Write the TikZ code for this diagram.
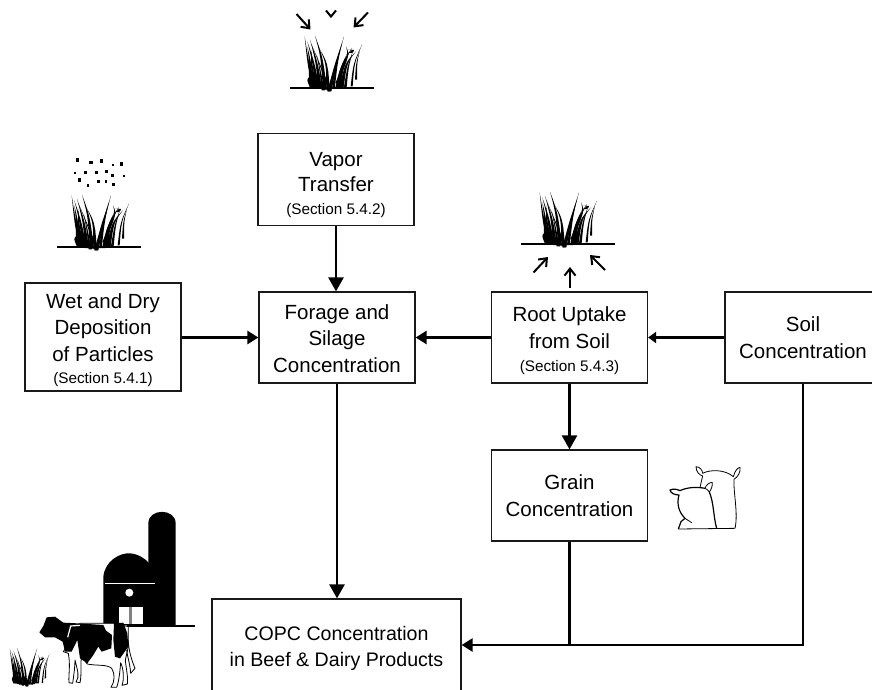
\documentclass[tikz,border=0pt]{standalone}
\usepackage{fontspec}
\setmainfont{Liberation Sans}
\usetikzlibrary{arrows.meta}
\newcommand\blade[7]{\fill ({#1-#7},#2) .. controls (#3,#4) .. (#5,#6) .. controls ({#3+#7},#4) .. ({#1+#7},#2) -- cycle;}
\newcommand\grassblades{%
\blade{130}{262}{112}{190}{104}{110}{5}
\blade{142}{265}{128}{190}{112}{125}{6}
\blade{150}{268}{138}{190}{120}{120}{6}
\blade{122}{250}{118}{190}{112}{140}{6}
\blade{136}{262}{122}{200}{124}{150}{5}
\blade{165}{270}{152}{170}{135}{108}{6}
\blade{175}{272}{168}{190}{150}{150}{5}
\blade{178}{275}{162}{230}{125}{135}{4}
\blade{158}{270}{150}{220}{140}{165}{4}
\blade{178}{275}{195}{190}{216}{130}{6}
\blade{190}{268}{200}{180}{222}{110}{4}
\blade{205}{265}{215}{190}{246}{145}{7}
\blade{215}{262}{225}{190}{258}{155}{6}
\blade{226}{262}{232}{200}{250}{150}{4}
\blade{200}{268}{208}{210}{232}{160}{5}
\blade{245}{260}{250}{190}{276}{135}{3}
\blade{258}{240}{258}{190}{270}{150}{3}
\blade{125}{262}{110}{240}{118}{232}{6}
\blade{160}{272}{168}{230}{175}{215}{5}
\blade{200}{250}{235}{165}{228}{140}{4}
\blade{240}{160}{250}{150}{228}{150}{6}
}
\tikzset{
  box/.style={draw=black!90,line width=1.25pt,fill=white,minimum width=156pt,inner sep=0pt,align=center,
    font=\fontsize{20.5}{26.6}\selectfont},
  flow/.style={line width=2.6pt,-{Triangle[length=14pt,width=15pt]}},
  flowsmall/.style={line width=2.6pt,-{Triangle[length=11pt,width=13pt]}},
  flowtiny/.style={line width=2.6pt,-{Triangle[length=8pt,width=11pt]}},
  plain/.style={line width=2.6pt},
  thin arrow/.style={line width=2pt,-{Straight Barb[length=7pt,width=11pt]}},
  art/.style={line width=0.8pt,line join=round},
  ground/.style={line width=1.8pt},
}
\newcommand\sect[1]{{\fontsize{15.3}{15.3}\selectfont #1}}
\newcommand\dn[1]{\rule{0pt}{\dimexpr 15pt+#1pt+#1pt\relax}}
\begin{document}
\begin{tikzpicture}[x=1pt,y=-1pt]
\useasboundingbox (0,0) rectangle (872,690);
\clip (0,0) rectangle (872,690);
\fill[white] (0,0) rectangle (872,690);
% boxes
\node[box,minimum height=92pt] (vapor) at (336,179.5) {\dn{5}Vapor\\[-1.5pt]Transfer\\[-3pt]\sect{(Section 5.4.2)}};
\node[box,minimum height=108pt] (wet) at (103,337) {\dn{3}Wet and Dry\\Deposition\\of Particles\\[-4pt]\sect{(Section 5.4.1)}};
\node[box,minimum height=91pt] (forage) at (337,337.5) {\dn{1}Forage and\\Silage\\Concentration};
\node[box,minimum height=91pt] (root) at (569.5,337.5) {\dn{3}Root Uptake\\from Soil\\[-4pt]\sect{(Section 5.4.3)}};
\node[box,minimum height=91pt] (soil) at (803,337.5) {Soil\\Concentration};
\node[box,minimum height=91pt] (grain) at (569.5,495.5) {Grain\\Concentration};
\node[box,minimum width=249pt,minimum height=92pt,font=\fontsize{19.6}{26.6}\selectfont] (copc) at (336.5,645) {\dn{3}COPC Concentration\\in Beef \& Dairy Products};
% connectors
\draw[flow] (vapor.south) -- (vapor.south |- forage.north);
\draw[flowsmall] (wet.east |- forage.west) -- (forage.west);
\draw[flowsmall] (root.west) -- (forage.east);
\draw[flowtiny] (soil.west) -- (root.east);
\draw[flow] (root.south) -- (grain.north);
\draw[flow] (forage.south) -- (forage.south |- copc.north);
\draw[plain] (grain.south) -- (grain.south |- copc.east);
\draw[flowsmall] (soil.south) |- (copc.east);
% top grass
\begin{scope}[shift={(290,88)},scale=1/3,shift={(-60,-265)}]\grassblades\end{scope}
\draw[ground] (290,88) -- (374,88);
\draw[thin arrow] (296.5,14) -- (310.5,29.5);
\draw[thin arrow] (368,12.5) -- (353.5,27.5);
\draw[line width=2pt] (326,10.5) -- (331,16.5) -- (336,10.5);
% left grass
\begin{scope}[shift={(57,247)},scale=1/3,shift={(-60,-265)}]\grassblades\end{scope}
\draw[ground] (57,247) -- (141,247);
\foreach \px/\py/\ps in {52/60/3.2,93/68/3.2,124/63/3.2,160/75/2,184/72/3.2,46/100/2,76/98/3.2,110/98/3.2,138/94/3,156/105/3,192/108/2.2,58/120/3.2,84/136/2.4,116/124/2.8,138/124/2.4,160/133/2.6}
  \fill ({60+\px/3-\ps/2},{140+\py/3-\ps/2}) rectangle ++(\ps,\ps);
% root grass
\begin{scope}[shift={(525,244)},scale=1/3,shift={(-60,-265)}]\grassblades\end{scope}
\draw[line width=2.8pt] (521,244) -- (615,244);
\draw[thin arrow] (533.5,272.5) -- (548,257);
\draw[thin arrow] (570,287.5) -- (570,267);
\draw[thin arrow] (605,270) -- (590,255);
% cow grass
\begin{scope}[shift={(9,684)},scale=0.23,shift={(-100,-265)}]\grassblades\end{scope}
% barn
\begin{scope}[shift={(0,540)},scale=1/3]
\fill (445,258) -- (445,-50) .. controls (445,-96) and (527,-96) .. (527,-50) -- (527,258) -- cycle;
\fill (310,256) -- (310,110) .. controls (315,62) and (360,38) .. (390,40) .. controls (415,42) and (435,55) .. (450,72) -- (450,256) -- cycle;
\draw[ground] (380,259) -- (585,259);
\draw[white,line width=1.2pt] (316,131) -- (465,131);
\fill[white] (388,158) circle (12);
\fill[white] (358,202) rectangle (428,252);
\fill[gray] (388,202) rectangle (396,252);
\end{scope}
% cow
\begin{scope}[shift={(0,540)},scale=1/3]
\draw[art,fill=white] (190,335) -- (205,340) .. controls (212,380) and (205,400) .. (207,428) -- (218,430) .. controls (222,400) and (225,380) .. (225,360) .. controls (232,390) and (240,410) .. (228,426) -- (240,428) .. controls (246,400) and (240,370) .. (245,350) -- (262,372) .. controls (290,378) and (320,372) .. (335,385) .. controls (345,400) and (345,425) .. (333,442) -- (350,442) .. controls (358,420) and (360,390) .. (362,368) .. controls (372,390) and (372,420) .. (366,436) -- (382,432) .. controls (385,410) and (378,385) .. (376,360) -- (385,320) -- (385,260) -- (342,250) -- (240,250) -- cycle;
\draw[art] (384,300) .. controls (388,340) and (395,360) .. (405,385) -- (392,400) .. controls (390,370) and (382,350) .. (380,330);
\fill (118,277) -- (130,258) -- (140,232) -- (165,230) -- (190,248) -- (232,250) -- (310,255) -- (318,272) -- (336,285) -- (334,325) -- (305,335) -- (295,320) -- (280,345) -- (262,370) -- (240,355) -- (232,300) -- (215,335) -- (195,335) -- (188,305) -- (165,292) -- (135,292) -- cycle;
\fill (342,250) -- (370,248) -- (382,280) -- (385,320) -- (360,355) -- (345,350) -- (340,300) -- cycle;
\draw[white,line width=1.2pt] (203,292) -- (212,258) -- (240,256);
\end{scope}
% sacks
\begin{scope}[shift={(480,380)},scale=1/3]
\draw[art] (660,322) -- (668,288) .. controls (658,285) and (648,275) .. (648,260) .. controls (660,260) and (668,272) .. (668,280) .. controls (690,268) and (735,268) .. (760,290) .. controls (765,272) and (772,264) .. (780,262) .. controls (782,275) and (775,290) .. (762,298) .. controls (760,340) and (775,400) .. (765,445) -- (595,447);
\draw[art,line width=1.2pt] (595,447) -- (603,425) -- (615,415) .. controls (595,395) and (590,370) .. (597,345) .. controls (585,345) and (572,340) .. (570,330) .. controls (580,325) and (592,328) .. (600,332) .. controls (620,322) and (650,320) .. (675,325);
\draw[art] (675,325) .. controls (678,315) and (688,307) .. (697,307) .. controls (698,318) and (693,330) .. (688,336) .. controls (682,330) and (680,325) .. (675,325);
\draw[art,line width=1.2pt] (688,336) .. controls (702,370) and (700,410) .. (710,445);
\draw[art] (615,415) -- (635,428);
\end{scope}
\end{tikzpicture}
\end{document}
